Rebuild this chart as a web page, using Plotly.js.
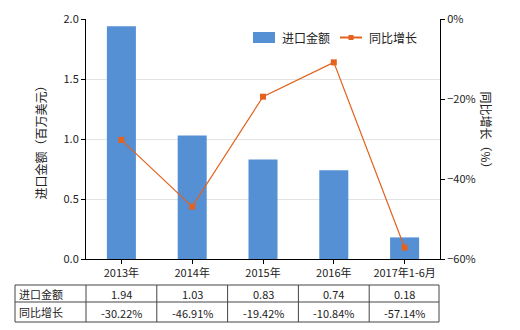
<!DOCTYPE html>
<html><head><meta charset="utf-8">
<script src="https://cdn.plot.ly/plotly-3.0.1.min.js"></script>
<style>body{margin:0;padding:0;background:#fff}#c{width:520px;height:330px}</style>
</head><body><div id="c"></div>
<script>
const categories = ["2013年","2014年","2015年","2016年","2017年1-6月"];
const importValues = [1.94, 1.03, 0.83, 0.74, 0.18];
const growthValues = [-30.22, -46.91, -19.42, -10.84, -57.14];
const importLabels = ["1.94","1.03","0.83","0.74","0.18"];
const growthLabels = ["-30.22%","-46.91%","-19.42%","-10.84%","-57.14%"];
const seriesNames = ["进口金额","同比增长"];

const FONT = '"Microsoft YaHei","Noto Sans CJK SC",sans-serif';
const BAR = '#5590D5', LINE = '#E2621E';
const L = 86, R = 440, T = 19, B = 259;
const px = x => (x - L) / (R - L);
const py = y => (B - y) / (B - T);

const traces = [
  {type:'bar', x:categories, y:importValues, name:seriesNames[0],
   marker:{color:BAR}, width:0.41, yaxis:'y'},
  {type:'scatter', mode:'lines+markers', x:categories, y:growthValues, name:seriesNames[1],
   line:{color:LINE, width:1.2}, marker:{symbol:'square', size:6, color:LINE}, yaxis:'y2'}
];

const shapes = [];
const lc = '#444';
const rows = [285, 302, 322];
rows.forEach(y => shapes.push({type:'line', xref:'paper', yref:'paper', x0:px(15), x1:px(439), y0:py(y), y1:py(y), line:{color:lc, width:1}}));
[15, 86, 156.8, 227.6, 298.4, 369.2, 439].forEach(x => shapes.push({type:'line', xref:'paper', yref:'paper', x0:px(x), x1:px(x), y0:py(285), y1:py(322), line:{color:lc, width:1}}));
// legend
shapes.push({type:'rect', xref:'paper', yref:'paper', x0:px(253), x1:px(275), y0:py(43), y1:py(32), fillcolor:BAR, line:{width:0}});
shapes.push({type:'line', xref:'paper', yref:'paper', x0:px(340), x1:px(362), y0:py(37.5), y1:py(37.5), line:{color:LINE, width:2}});
shapes.push({type:'rect', xref:'paper', yref:'paper', x0:px(348.5), x1:px(353.5), y0:py(40), y1:py(35), fillcolor:LINE, line:{width:0}});

const annotations = [];
const tf = {family:FONT, size:11, color:'#222'};
annotations.push({xref:'paper', yref:'paper', x:px(280), y:py(37.5), text:seriesNames[0], showarrow:false, xanchor:'left', yanchor:'middle', font:{family:FONT, size:12, color:'#222'}});
annotations.push({xref:'paper', yref:'paper', x:px(367), y:py(37.5), text:seriesNames[1], showarrow:false, xanchor:'left', yanchor:'middle', font:{family:FONT, size:12, color:'#222'}});
annotations.push({xref:'paper', yref:'paper', x:px(17), y:py(293.5), text:seriesNames[0], showarrow:false, xanchor:'left', yanchor:'middle', font:tf});
annotations.push({xref:'paper', yref:'paper', x:px(17), y:py(312), text:seriesNames[1], showarrow:false, xanchor:'left', yanchor:'middle', font:tf});
categories.forEach((c,i) => {
  annotations.push({xref:'x', yref:'paper', x:c, y:py(294), text:importLabels[i], showarrow:false, xanchor:'center', yanchor:'middle', font:tf});
  annotations.push({xref:'x', yref:'paper', x:c, y:py(312.5), text:growthLabels[i], showarrow:false, xanchor:'center', yanchor:'middle', font:tf});
});
annotations.push({xref:'paper', yref:'paper', x:px(29), y:py(140), text:'进口金额（百万美元）', textangle:-90, showarrow:false, font:{family:FONT, size:12, color:'#222'}});
annotations.push({xref:'paper', yref:'paper', x:px(497), y:py(133), text:'同比增长（%）', textangle:90, showarrow:false, font:{family:FONT, size:12, color:'#222'}});

const layout = {
  width:520, height:330,
  margin:{l:L, r:520-R, t:T, b:330-B, pad:0},
  paper_bgcolor:'#fff', plot_bgcolor:'#fff',
  font:{family:FONT, size:11, color:'#222'},
  showlegend:false,
  xaxis:{type:'category', showline:true, linecolor:'#000', linewidth:1, ticks:'outside', ticklen:4, tickcolor:'#000', tickfont:{family:FONT, size:11}, showgrid:false, zeroline:false},
  yaxis:{range:[0,2], dtick:0.5, tickformat:'.1f', showline:true, linecolor:'#000', linewidth:1, ticks:'outside', ticklen:4, tickcolor:'#000', gridcolor:'#e2e2e2', zeroline:false, tickfont:{family:FONT, size:11}},
  yaxis2:{range:[-60,0], dtick:20, ticksuffix:'%', overlaying:'y', side:'right', showline:true, linecolor:'#000', linewidth:1, ticks:'outside', ticklen:4, tickcolor:'#000', showgrid:false, zeroline:false, tickfont:{family:FONT, size:11}},
  bargap:0.59,
  shapes:shapes, annotations:annotations
};
Plotly.newPlot('c', traces, layout, {displayModeBar:false, staticPlot:true});
</script></body></html>
